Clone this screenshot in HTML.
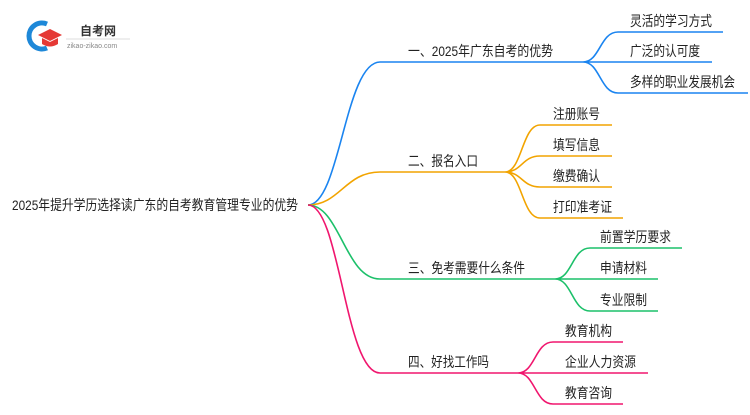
<!DOCTYPE html>
<html><head><meta charset="utf-8"><style>
body{margin:0;background:#fff}
svg text{font-family:"Liberation Sans","Noto Sans CJK SC",sans-serif;font-size:14px;fill:#222}
</style></head><body>
<svg width="750" height="410" xmlns="http://www.w3.org/2000/svg">
<g>
<path d="M47 24 A13 13 0 1 0 47 48" stroke="#1e88d8" stroke-width="5" fill="none"/>
<polygon points="50,29 62,35 50,41 38,35" fill="#e53935"/>
<path d="M42 38 v6 q8 5 16 0 v-6 l-8 4z" fill="#e53935"/>
<text x="80" y="35" style="font-size:12px;font-weight:bold;fill:#333">自考网</text>
<line x1="66" y1="39" x2="130" y2="39" stroke="#ddd"/>
<text x="67" y="48" style="font-size:7px;fill:#888">zikao-zikao.com</text>
</g>
<text x="12" y="210" textLength="286" lengthAdjust="spacingAndGlyphs">2025年提升学历选择读广东的自考教育管理专业的优势</text>
<g fill="none" stroke-width="1.6">
<path d="M308 205 C340 205,345 62,380 62 H583" stroke="#1a84f0"/>
<path d="M583 62 C600 62,600 32,618 32 H723 M583 62 H712 M583 62 C600 62,600 93,618 93 H748" stroke="#1a84f0"/>
<path d="M308 205 C340 205,345 172,380 172 H505" stroke="#f2a400"/>
<path d="M505 172 C522 172,522 125,540 125 H612 M505 172 C522 172,522 156,540 156 H612 M505 172 C522 172,522 187,540 187 H612 M505 172 C522 172,522 218,540 218 H623" stroke="#f2a400"/>
<path d="M308 205 C340 205,345 279,380 279 H555" stroke="#1cc06a"/>
<path d="M555 279 C572 279,572 248,590 248 H682 M555 279 H658 M555 279 C572 279,572 311,590 311 H658" stroke="#1cc06a"/>
<path d="M308 205 C340 205,345 373,380 373 H518" stroke="#f0166e"/>
<path d="M518 373 C535 373,535 342,553 342 H623 M518 373 H648 M518 373 C535 373,535 404,553 404 H623" stroke="#f0166e"/>
</g>
<text x="408" y="56" textLength="145" lengthAdjust="spacingAndGlyphs">一、2025年广东自考的优势</text>
<text x="630" y="26" textLength="82" lengthAdjust="spacingAndGlyphs">灵活的学习方式</text>
<text x="630" y="56" textLength="70" lengthAdjust="spacingAndGlyphs">广泛的认可度</text>
<text x="630" y="87" textLength="105" lengthAdjust="spacingAndGlyphs">多样的职业发展机会</text>
<text x="408" y="166" textLength="70" lengthAdjust="spacingAndGlyphs">二、报名入口</text>
<text x="553" y="119" textLength="47" lengthAdjust="spacingAndGlyphs">注册账号</text>
<text x="553" y="150" textLength="47" lengthAdjust="spacingAndGlyphs">填写信息</text>
<text x="553" y="181" textLength="47" lengthAdjust="spacingAndGlyphs">缴费确认</text>
<text x="553" y="212" textLength="59" lengthAdjust="spacingAndGlyphs">打印准考证</text>
<text x="408" y="273" textLength="117" lengthAdjust="spacingAndGlyphs">三、免考需要什么条件</text>
<text x="600" y="242" textLength="71" lengthAdjust="spacingAndGlyphs">前置学历要求</text>
<text x="600" y="273" textLength="47" lengthAdjust="spacingAndGlyphs">申请材料</text>
<text x="600" y="305" textLength="47" lengthAdjust="spacingAndGlyphs">专业限制</text>
<text x="408" y="367" textLength="81" lengthAdjust="spacingAndGlyphs">四、好找工作吗</text>
<text x="565" y="336" textLength="47" lengthAdjust="spacingAndGlyphs">教育机构</text>
<text x="565" y="367" textLength="71" lengthAdjust="spacingAndGlyphs">企业人力资源</text>
<text x="565" y="398" textLength="47" lengthAdjust="spacingAndGlyphs">教育咨询</text>
</svg>
</body></html>
